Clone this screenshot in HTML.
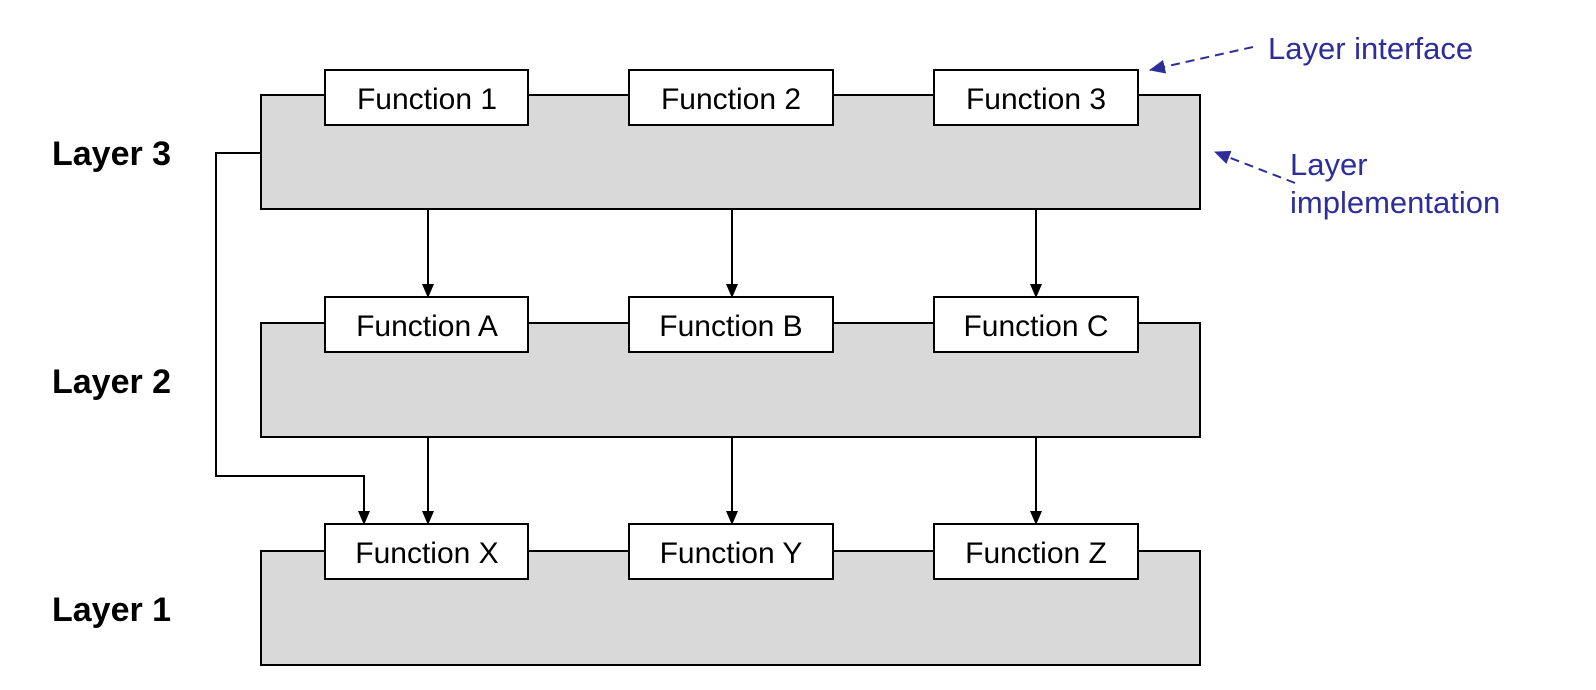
<!DOCTYPE html>
<html><head><style>body{margin:0;background:#fff}svg{display:block}</style></head><body>
<svg width="1596" height="690" xmlns="http://www.w3.org/2000/svg" font-family="Liberation Sans, Arial, sans-serif">
<defs>
<marker id="a" markerWidth="14" markerHeight="14" refX="13" refY="6" orient="auto" markerUnits="userSpaceOnUse"><path d="M0,0 L14,6 L0,12 z" fill="#000"/></marker>
<marker id="b" markerWidth="16" markerHeight="14" refX="15" refY="7" orient="auto" markerUnits="userSpaceOnUse"><path d="M0,0 L16,7 L0,14 z" fill="#2e2e9a"/></marker>
</defs>
<g stroke="#000" stroke-width="2">
<rect x="261" y="95" width="939" height="114" fill="#d9d9d9"/>
<rect x="261" y="323" width="939" height="114" fill="#d9d9d9"/>
<rect x="261" y="551" width="939" height="114" fill="#d9d9d9"/>
</g>
<g stroke="#000" stroke-width="2" fill="#fff">
<rect x="325" y="70" width="203" height="55"/><rect x="629" y="70" width="204" height="55"/><rect x="934" y="70" width="204" height="55"/>
<rect x="325" y="297" width="203" height="55"/><rect x="629" y="297" width="204" height="55"/><rect x="934" y="297" width="204" height="55"/>
<rect x="325" y="524" width="203" height="55"/><rect x="629" y="524" width="204" height="55"/><rect x="934" y="524" width="204" height="55"/>
</g>
<g stroke="#000" stroke-width="2" fill="none" marker-end="url(#a)">
<line x1="428" y1="209" x2="428" y2="297"/><line x1="732" y1="209" x2="732" y2="297"/><line x1="1036" y1="209" x2="1036" y2="297"/>
<line x1="428" y1="437" x2="428" y2="524"/><line x1="732" y1="437" x2="732" y2="524"/><line x1="1036" y1="437" x2="1036" y2="524"/>
<polyline points="261,153 216,153 216,476 364,476 364,524"/>
</g>
<g font-size="30" text-anchor="middle" fill="#000">
<text x="427" y="109">Function 1</text><text x="731" y="109">Function 2</text><text x="1036" y="109">Function 3</text>
<text x="427" y="336">Function A</text><text x="731" y="336">Function B</text><text x="1036" y="336">Function C</text>
<text x="427" y="563">Function X</text><text x="731" y="563">Function Y</text><text x="1036" y="563">Function Z</text>
</g>
<g font-size="34" font-weight="bold" fill="#000">
<text x="52" y="165">Layer 3</text><text x="52" y="393">Layer 2</text><text x="52" y="621">Layer 1</text>
</g>
<g stroke="#2e2e9a" stroke-width="2" stroke-dasharray="9,6" fill="none" marker-end="url(#b)">
<line x1="1253" y1="47" x2="1150" y2="70"/>
<line x1="1295" y1="183" x2="1215" y2="152"/>
</g>
<g font-size="31" fill="#2e2e9a">
<text x="1268" y="59">Layer interface</text>
<text x="1290" y="175">Layer</text>
<text x="1290" y="213">implementation</text>
</g>
</svg>
</body></html>
